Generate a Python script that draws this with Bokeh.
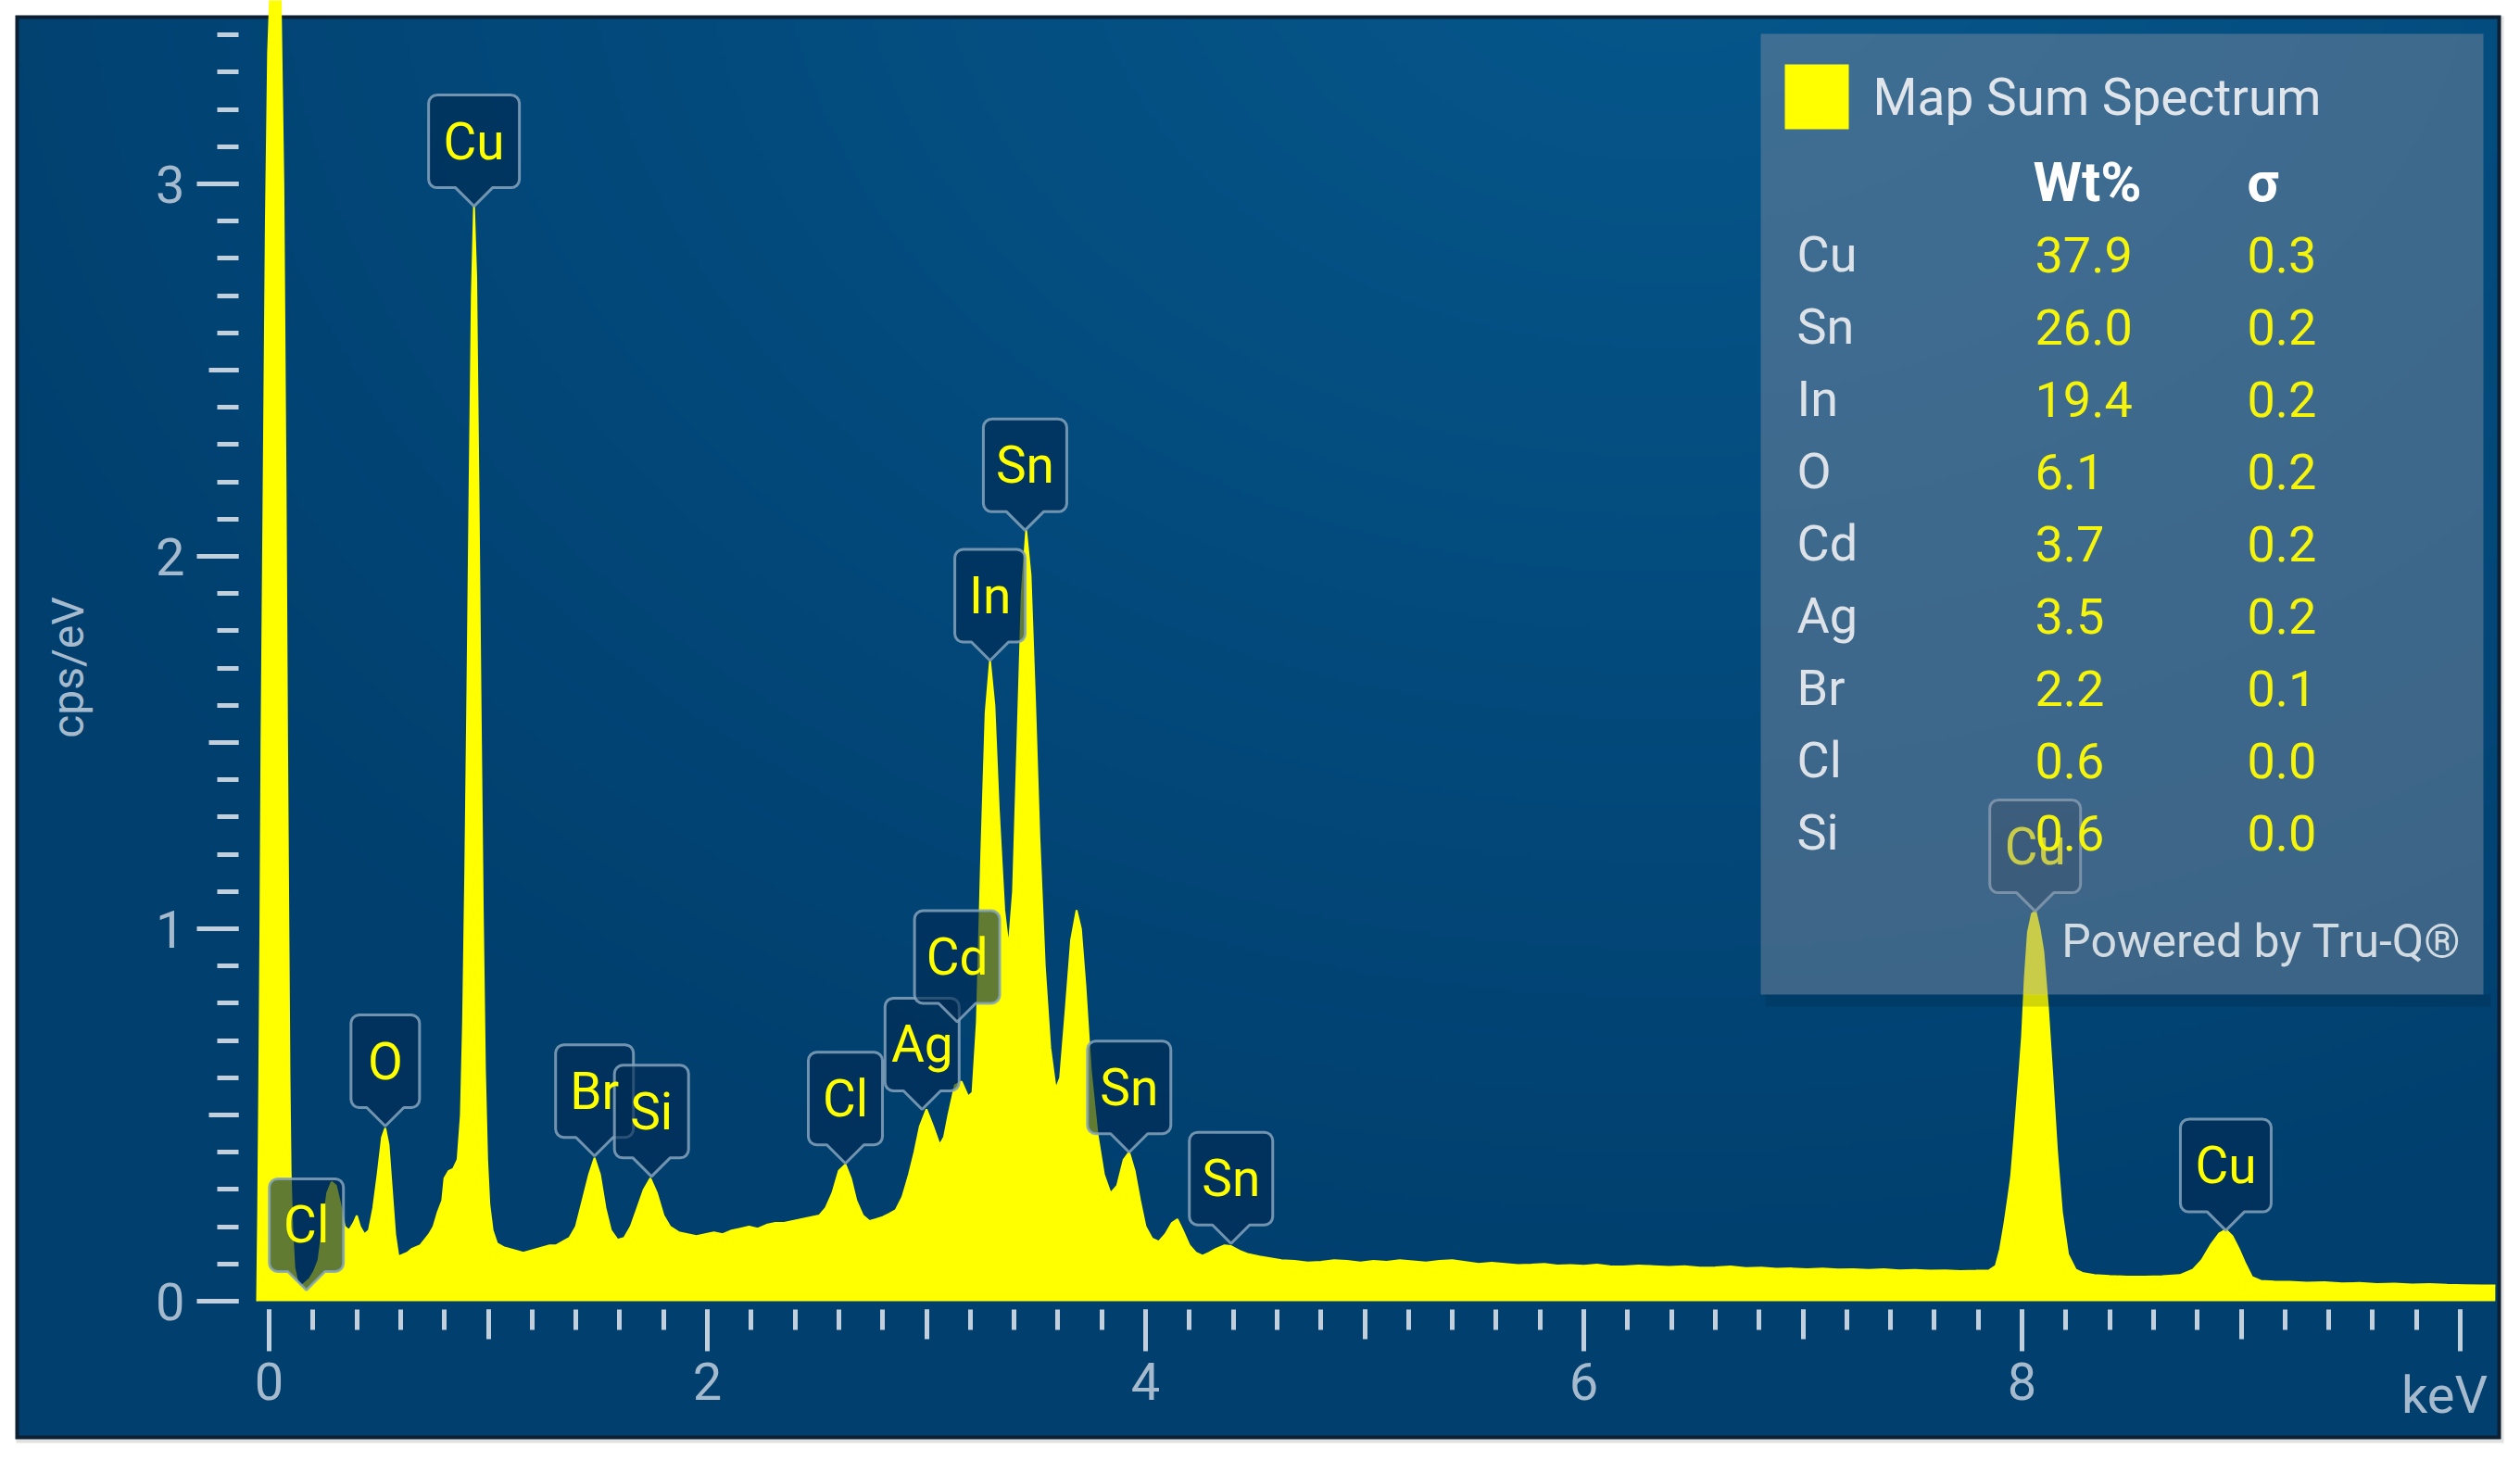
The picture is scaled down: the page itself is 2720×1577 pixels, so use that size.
import numpy as np
from bokeh.plotting import figure
from bokeh.models import ColumnDataSource, FixedTicker, LinearAxis, Range1d
from bokeh.core.properties import value
from bokeh.embed import file_html
from bokeh.resources import INLINE

# ---------------- data ----------------
energy_kev = [
    -0.055, -0.05, -0.045, -0.04, -0.035, -0.025, -0.015, -0.005, 0.01, 0.03,
    0.05, 0.065, 0.075, 0.082, 0.088, 0.093, 0.098, 0.105, 0.115, 0.13,
    0.145, 0.165, 0.185, 0.205, 0.225, 0.245, 0.265, 0.285, 0.305, 0.325,
    0.345, 0.365, 0.385, 0.40, 0.415, 0.435, 0.455, 0.475, 0.495, 0.515,
    0.53, 0.545, 0.56, 0.575, 0.59, 0.61, 0.63, 0.65, 0.67, 0.69,
    0.71, 0.73, 0.75, 0.77, 0.79, 0.80, 0.82, 0.84, 0.86, 0.875,
    0.885, 0.895, 0.905, 0.915, 0.925, 0.935, 0.945, 0.955, 0.965, 0.975,
    0.985, 0.995, 1.005, 1.02, 1.04, 1.07, 1.10, 1.13, 1.16, 1.19,
    1.22, 1.25, 1.28, 1.31, 1.34, 1.37, 1.40, 1.43, 1.46, 1.485,
    1.51, 1.535, 1.56, 1.59, 1.62, 1.65, 1.68, 1.71, 1.74, 1.77,
    1.80, 1.83, 1.87, 1.91, 1.95, 1.99, 2.03, 2.07, 2.11, 2.15,
    2.19, 2.23, 2.27, 2.31, 2.35, 2.39, 2.43, 2.47, 2.51, 2.54,
    2.57, 2.60, 2.63, 2.655, 2.68, 2.71, 2.74, 2.77, 2.80, 2.83,
    2.86, 2.89, 2.92, 2.945, 2.97, 3.0, 3.03, 3.06, 3.08, 3.1,
    3.13, 3.16, 3.19, 3.21, 3.23, 3.25, 3.27, 3.29, 3.31, 3.33,
    3.355, 3.375, 3.395, 3.415, 3.435, 3.455, 3.475, 3.495, 3.515, 3.54,
    3.565, 3.59, 3.61, 3.635, 3.66, 3.685, 3.705, 3.725, 3.75, 3.78,
    3.81, 3.84, 3.87, 3.9, 3.925, 3.95, 3.975, 4.0, 4.03, 4.06,
    4.09, 4.12, 4.145, 4.17, 4.2, 4.23, 4.26, 4.29, 4.32, 4.36,
    4.39, 4.43, 4.47, 4.52, 4.57, 4.62, 4.68, 4.74, 4.8, 4.86,
    4.92, 4.98, 5.04, 5.1, 5.16, 5.22, 5.28, 5.34, 5.4, 5.46,
    5.52, 5.58, 5.64, 5.7, 5.76, 5.82, 5.88, 5.94, 6.0, 6.06,
    6.12, 6.18, 6.25, 6.32, 6.39, 6.46, 6.53, 6.6, 6.67, 6.74,
    6.81, 6.88, 6.95, 7.02, 7.09, 7.16, 7.23, 7.3, 7.37, 7.44,
    7.51, 7.58, 7.65, 7.72, 7.79, 7.85, 7.88, 7.90, 7.92, 7.935,
    7.95, 7.965, 7.978, 7.99, 8.0, 8.013, 8.027, 8.045, 8.062, 8.08,
    8.097, 8.118, 8.139, 8.16, 8.182, 8.21, 8.245, 8.28, 8.33, 8.4,
    8.48, 8.56, 8.64, 8.72, 8.78, 8.82, 8.86, 8.9, 8.93, 8.96,
    8.99, 9.02, 9.05, 9.09, 9.15, 9.22, 9.3, 9.38, 9.46, 9.54,
    9.62, 9.7, 9.78, 9.86, 9.94, 10.02, 10.1, 10.16,
]
cps_per_ev = [
    0.0, 0.25, 0.6, 1.0, 1.5, 2.2, 2.9, 3.35, 3.6, 3.7,
    3.6, 3.0, 2.2, 1.5, 1.0, 0.6, 0.35, 0.2, 0.09, 0.05,
    0.04, 0.05, 0.06, 0.08, 0.11, 0.2, 0.29, 0.32, 0.31, 0.26,
    0.2, 0.19, 0.21, 0.23, 0.2, 0.18, 0.19, 0.25, 0.34, 0.44,
    0.465, 0.42, 0.3, 0.18, 0.12, 0.125, 0.13, 0.14, 0.145, 0.15,
    0.165, 0.18, 0.2, 0.24, 0.27, 0.33, 0.35, 0.355, 0.38, 0.5,
    0.75, 1.15, 1.65, 2.2, 2.7, 2.94, 2.75, 2.2, 1.6, 1.05,
    0.62, 0.38, 0.26, 0.19, 0.155, 0.145, 0.14, 0.135, 0.13, 0.135,
    0.14, 0.145, 0.15, 0.15, 0.16, 0.17, 0.2, 0.27, 0.34, 0.385,
    0.34, 0.25, 0.19, 0.165, 0.17, 0.2, 0.25, 0.3, 0.33, 0.29,
    0.23, 0.2, 0.185, 0.18, 0.175, 0.18, 0.185, 0.18, 0.19, 0.195,
    0.2, 0.195, 0.205, 0.21, 0.21, 0.215, 0.22, 0.225, 0.23, 0.25,
    0.29, 0.35, 0.367, 0.33, 0.27, 0.23, 0.215, 0.22, 0.226, 0.235,
    0.245, 0.28, 0.34, 0.4, 0.47, 0.515, 0.47, 0.42, 0.44, 0.5,
    0.58, 0.59, 0.55, 0.56, 0.75, 1.2, 1.58, 1.72, 1.6, 1.32,
    1.05, 0.95, 1.1, 1.5, 1.9, 2.07, 1.95, 1.62, 1.25, 0.9,
    0.68, 0.57, 0.6, 0.78, 0.97, 1.05, 1.0, 0.85, 0.62, 0.45,
    0.34, 0.29, 0.31, 0.38, 0.4, 0.35, 0.27, 0.2, 0.168, 0.16,
    0.18, 0.21, 0.22, 0.19, 0.15, 0.13, 0.122, 0.13, 0.14, 0.15,
    0.148, 0.135, 0.126, 0.12, 0.115, 0.11, 0.108, 0.104, 0.106, 0.11,
    0.108, 0.104, 0.108, 0.106, 0.11, 0.107, 0.104, 0.108, 0.11, 0.105,
    0.1, 0.103, 0.1, 0.097, 0.098, 0.1, 0.096, 0.097, 0.095, 0.098,
    0.094, 0.093, 0.096, 0.094, 0.092, 0.094, 0.09, 0.091, 0.093, 0.089,
    0.09, 0.087, 0.088, 0.086, 0.088, 0.085, 0.086, 0.084, 0.086, 0.083,
    0.084, 0.082, 0.083, 0.081, 0.082, 0.083, 0.095, 0.14, 0.21, 0.27,
    0.334, 0.44, 0.54, 0.63, 0.71, 0.87, 0.99, 1.04, 1.047, 1.0,
    0.94, 0.79, 0.6, 0.4, 0.24, 0.126, 0.085, 0.075, 0.07, 0.068,
    0.066, 0.066, 0.067, 0.07, 0.085, 0.11, 0.15, 0.182, 0.192, 0.175,
    0.14, 0.1, 0.065, 0.055, 0.053, 0.052, 0.05, 0.051, 0.048, 0.049,
    0.046, 0.047, 0.045, 0.046, 0.044, 0.043, 0.042, 0.042,
]
assert len(energy_kev) == len(cps_per_ev)

# peak markers: element, energy of the pointer tip, height of the pointer tip
peak_elements = ["Cl", "O", "Cu", "Br", "Si", "Cl", "Ag", "Cd", "In", "Sn", "Sn", "Sn", "Cu", "Cu"]
peak_kev = [0.17, 0.53, 0.935, 1.485, 1.745, 2.63, 2.98, 3.14, 3.29, 3.45, 3.925, 4.39, 8.06, 8.93]
peak_tip_cps = [0.03, 0.47, 2.94, 0.39, 0.335, 0.37, 0.515, 0.75, 1.72, 2.07, 0.40, 0.155, 1.047, 0.19]

# quantification table
legend_title = "Map Sum Spectrum"
quant_elements = ["Cu", "Sn", "In", "O", "Cd", "Ag", "Br", "Cl", "Si"]
quant_wt = ["37.9", "26.0", "19.4", "6.1", "3.7", "3.5", "2.2", "0.6", "0.6"]
quant_sigma = ["0.3", "0.2", "0.2", "0.2", "0.2", "0.2", "0.1", "0.0", "0.0"]

x_labeled_ticks = [0, 2, 4, 6, 8]
x_end_ticks = [10]
x_mid_ticks = [1, 3, 5, 7, 9]
x_minor_ticks = [round(0.2 * i, 1) for i in range(0, 51)]
x_unit = "keV"
y_major_ticks = [0, 1, 2, 3]
y_mid_ticks = [0.5, 1.5, 2.5]
y_minor_ticks = [round(0.1 * i, 1) for i in range(0, 35)]
y_unit = "cps/eV"

# ---------------- geometry / style ----------------
CANVAS_X0, CANVAS_Y0 = 0, 0           # page pixel of the canvas' top-left corner
CANVAS_W, CANVAS_H = 2712, 1570
BLUE_X0, BLUE_Y0, BLUE_X1, BLUE_Y1 = 20, 20, 2695, 1549   # page px of the chart panel
X0_PX, KX = 290.0, 236.5              # page px of 0 keV, px per keV
Y0_PX, KY = 1404.0, 402.0             # page px of 0 cps/eV, px per cps/eV


def dx(px):
    return (px - X0_PX) / KX


def dy(py):
    return (Y0_PX - py) / KY


FONT = "Roboto"
TICK_COLOR = "#c2d0dd"
TICK_LABEL_COLOR = "#a6bace"
YELLOW = "#ffff00"

x_range = Range1d(dx(CANVAS_X0), dx(CANVAS_X0 + CANVAS_W))
y_range = Range1d(dy(CANVAS_Y0 + CANVAS_H), dy(CANVAS_Y0))

p = figure(width=CANVAS_W, height=CANVAS_H, x_range=x_range, y_range=y_range,
           output_backend="svg", toolbar_location=None, min_border=0,
           x_axis_type=None, y_axis_type=None)
p.border_fill_color = "#ffffff"
p.background_fill_color = "#ffffff"
p.outline_line_color = None

# soft shadow + dark frame round the chart panel
p.quad(left=[dx(BLUE_X0 - 3)], right=[dx(BLUE_X1 + 7)], top=[dy(BLUE_Y0 - 3)], bottom=[dy(BLUE_Y1 + 8)],
       fill_color="#9a9a9a", fill_alpha=0.3, line_color=None)
p.quad(left=[dx(BLUE_X0 - 4)], right=[dx(BLUE_X1 + 4)], top=[dy(BLUE_Y0 - 4)], bottom=[dy(BLUE_Y1 + 4)],
       fill_color="#0d2033", line_color=None)

# background gradient of the chart panel (decoration)
BW, BH = BLUE_X1 - BLUE_X0, BLUE_Y1 - BLUE_Y0
GX, GY = 540, 310
xs_px = BLUE_X0 + (np.arange(GX) + 0.5) * BW / GX
ys_px = BLUE_Y1 - (np.arange(GY) + 0.5) * BH / GY
XX, YY = np.meshgrid(xs_px, ys_px)
t = np.clip(1 - np.hypot((XX - 1800) / 2000.0, (YY + 100) / 1500.0), 0, 1)
dark = np.array([0, 63, 110], dtype=float)
light = np.array([6, 87, 140], dtype=float)
rgb = dark + (light - dark) * t[..., None]
img = np.empty((GY, GX), dtype=np.uint32)
view = img.view(dtype=np.uint8).reshape((GY, GX, 4))
view[..., 0:3] = np.round(rgb).astype(np.uint8)
view[..., 3] = 255
p.image_rgba(image=[img], x=dx(BLUE_X0), y=dy(BLUE_Y1),
             dw=dx(BLUE_X1) - dx(BLUE_X0), dh=dy(BLUE_Y0) - dy(BLUE_Y1))

# ---------------- axes (drawn inside the blue panel) ----------------
def style_axis(ax, major_out, minor_out, labels=True):
    ax.axis_line_color = None
    ax.major_tick_line_color = TICK_COLOR
    ax.major_tick_line_width = 5
    ax.major_tick_in = 0
    ax.major_tick_out = major_out
    ax.minor_tick_line_color = TICK_COLOR if minor_out else None
    ax.minor_tick_line_width = 5
    ax.minor_tick_in = 0
    ax.minor_tick_out = minor_out
    ax.major_label_text_font = FONT
    ax.major_label_text_font_size = "56px"
    ax.major_label_text_color = TICK_LABEL_COLOR if labels else None


X_AXIS_AT = dy(1413)
xa = LinearAxis(fixed_location=X_AXIS_AT,
                ticker=FixedTicker(ticks=x_labeled_ticks, minor_ticks=x_minor_ticks))
style_axis(xa, 45, 22)
xa.major_label_standoff = 12
p.add_layout(xa, "below")

xa_end = LinearAxis(fixed_location=X_AXIS_AT, ticker=FixedTicker(ticks=x_end_ticks, minor_ticks=[]))
style_axis(xa_end, 45, 0, labels=False)
p.add_layout(xa_end, "below")

xa_mid = LinearAxis(fixed_location=X_AXIS_AT, ticker=FixedTicker(ticks=x_mid_ticks, minor_ticks=[]))
style_axis(xa_mid, 32, 0, labels=False)
p.add_layout(xa_mid, "below")

Y_AXIS_AT = dx(257)
ya = LinearAxis(fixed_location=Y_AXIS_AT,
                ticker=FixedTicker(ticks=y_major_ticks, minor_ticks=y_minor_ticks))
style_axis(ya, 45, 23)
ya.major_label_standoff = 13
p.add_layout(ya, "left")

ya_mid = LinearAxis(fixed_location=Y_AXIS_AT, ticker=FixedTicker(ticks=y_mid_ticks, minor_ticks=[]))
style_axis(ya_mid, 32, 0, labels=False)
p.add_layout(ya_mid, "left")

# axis unit labels
p.text(x=[dx(2638)], y=[dy(1505)], text=[x_unit],
       text_font=value(FONT), text_font_size="56px", text_color=TICK_LABEL_COLOR,
       text_align="center", text_baseline="middle")
p.text(x=[dx(73)], y=[dy(720)], text=[y_unit], angle=np.pi / 2,
       text_font=value(FONT), text_font_size="48px", text_color=TICK_LABEL_COLOR,
       text_align="center", text_baseline="middle")

# ---------------- spectrum ----------------
spec = ColumnDataSource(dict(x=energy_kev, y=cps_per_ev))
p.varea(x="x", y1=0, y2="y", source=spec, fill_color=YELLOW)
p.line(x="x", y="y", source=spec, line_color=YELLOW, line_width=2)

# ---------------- peak label call-outs ----------------
BOX_H, NOTCH_H, NOTCH_W, RADIUS = 100.0, 20.0, 20.0, 9.0
BOX_W = {"Cl": 80, "O": 74, "Cu": 98, "Br": 84, "Si": 80, "Ag": 80, "Cd": 92, "In": 76, "Sn": 90}


def callout(xk, yc, w):
    # offsets in page pixels (x right, y down) relative to the tip
    pts = [(0.0, 0.0), (NOTCH_W, -NOTCH_H)]

    def arc(cx, cy, a0, a1):
        for a in np.linspace(a0, a1, 5):
            pts.append((cx + RADIUS * np.cos(a), cy + RADIUS * np.sin(a)))

    hw = w / 2.0
    bot, top = -NOTCH_H, -NOTCH_H - BOX_H
    arc(hw - RADIUS, bot - RADIUS, np.pi / 2, 0)
    arc(hw - RADIUS, top + RADIUS, 0, -np.pi / 2)
    arc(-hw + RADIUS, top + RADIUS, -np.pi / 2, -np.pi)
    arc(-hw + RADIUS, bot - RADIUS, np.pi, np.pi / 2)
    pts.append((-NOTCH_W, -NOTCH_H))
    xs = [xk + ox / KX for ox, oy in pts]
    ys = [yc - oy / KY for ox, oy in pts]
    return xs, ys


c_xs, c_ys = [], []
for el, xk, yc in zip(peak_elements, peak_kev, peak_tip_cps):
    a, b = callout(xk, yc, BOX_W[el])
    c_xs.append(a)
    c_ys.append(b)
p.patches(xs=c_xs, ys=c_ys, fill_color="#002a52", fill_alpha=0.62,
          line_color="#85a3bc", line_alpha=0.85, line_width=3)
p.text(x=peak_kev, y=[v + (NOTCH_H + BOX_H / 2) / KY for v in peak_tip_cps], text=peak_elements,
       text_font=value(FONT), text_font_size="55px", text_color=YELLOW,
       text_align="center", text_baseline="middle")

# ---------------- quantification panel ----------------
p.quad(left=[dx(1905)], right=[dx(2688)], top=[dy(1073)], bottom=[dy(1086)],
       fill_color="#001a33", fill_alpha=0.18, line_color=None)
p.quad(left=[dx(1900)], right=[dx(2680)], top=[dy(36)], bottom=[dy(1073)],
       fill_color="#868f9f", fill_alpha=0.45, line_color=None)
p.quad(left=[dx(1926)], right=[dx(1995)], top=[dy(69)], bottom=[dy(139)],
       fill_color=YELLOW, line_color=None)
p.text(x=[dx(2021)], y=[dy(104)], text=[legend_title],
       text_font=value(FONT), text_font_size="55px", text_color="#dfe5eb",
       text_align="left", text_baseline="middle")
p.text(x=[dx(2194), dx(2425)], y=[dy(196), dy(196)], text=["Wt%", "σ"],
       text_font=value(FONT), text_font_size="60px", text_font_style="bold",
       text_color="#ffffff", text_align="left", text_baseline="middle")
row_y = [dy(274 + 78 * i) for i in range(len(quant_elements))]
p.text(x=[dx(1939)] * len(quant_elements), y=row_y, text=quant_elements,
       text_font=value(FONT), text_font_size="54px", text_color="#dce2e8",
       text_align="left", text_baseline="middle")
p.text(x=[dx(2196)] * len(quant_wt), y=row_y, text=quant_wt,
       text_font=value(FONT), text_font_size="54px", text_color="#f4f40c",
       text_align="left", text_baseline="middle")
p.text(x=[dx(2425)] * len(quant_sigma), y=row_y, text=quant_sigma,
       text_font=value(FONT), text_font_size="54px", text_color="#f4f40c",
       text_align="left", text_baseline="middle")
p.text(x=[dx(2656)], y=[dy(1015)], text=["Powered by Tru-Q®"],
       text_font=value(FONT), text_font_size="50px", text_color="#d3dbe2",
       text_align="right", text_baseline="middle")

open("out.html", "w").write(file_html(p, INLINE))
